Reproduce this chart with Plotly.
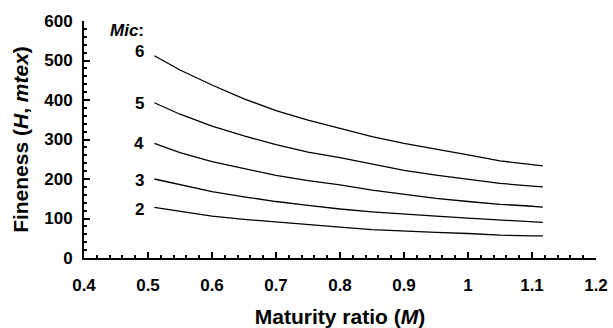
import plotly.graph_objects as go

maturity = [0.51, 0.55, 0.60, 0.65, 0.70, 0.75, 0.80, 0.85, 0.90, 0.95, 1.00, 1.05, 1.10, 1.117]
mic_levels = ["2", "3", "4", "5", "6"]
fineness = {
    "6": [512, 476, 438, 403, 373, 349, 328, 307, 290, 276, 261, 246, 236, 233],
    "5": [393, 364, 334, 309, 287, 268, 254, 238, 222, 210, 199, 189, 182, 180],
    "4": [290, 267, 244, 226, 209, 196, 185, 172, 161, 151, 143, 136, 131, 129],
    "3": [200, 185, 168, 155, 143, 133, 124, 117, 111, 106, 101, 96, 91, 90],
    "2": [128, 118, 106, 98, 91, 84, 78, 72, 68, 65, 62, 58, 56, 56],
}
label_y = {"6": 522, "5": 390, "4": 290, "3": 197, "2": 123}
x_ticks = [0.4, 0.5, 0.6, 0.7, 0.8, 0.9, 1.0, 1.1, 1.2]
x_tick_text = ["0.4", "0.5", "0.6", "0.7", "0.8", "0.9", "1", "1.1", "1.2"]
y_ticks = [0, 100, 200, 300, 400, 500, 600]

FONT = "Arial, Liberation Sans, sans-serif"

fig = go.Figure()
for m in mic_levels:
    fig.add_trace(go.Scatter(x=maturity, y=fineness[m], mode="lines",
                             line=dict(color="black", width=1.3), showlegend=False))
    fig.add_annotation(x=0.497, y=label_y[m], text="<b>" + m + "</b>", showarrow=False,
                       xanchor="right", yanchor="middle",
                       font=dict(family=FONT, size=17, color="black"))

fig.add_annotation(x=0.4375, y=575, text="<b><i>Mic</i>:</b>", showarrow=False,
                   xanchor="left", yanchor="middle",
                   font=dict(family=FONT, size=17, color="black"))

fig.update_layout(
    width=613, height=328,
    margin=dict(l=84, r=17, t=21, b=70),
    paper_bgcolor="white", plot_bgcolor="white",
    font=dict(family=FONT, size=17, color="black"),
    xaxis=dict(range=[0.4, 1.2], tickvals=x_ticks,
               ticktext=["<b>" + t + "</b>" for t in x_tick_text],
               showgrid=False, zeroline=False, automargin=False,
               showline=True, linecolor="black", linewidth=2,
               ticks="inside", ticklen=6, tickwidth=1.5, tickcolor="black",
               minor=dict(dtick=0.02, tick0=0.4, ticks="inside", ticklen=3, tickwidth=1.5, tickcolor="black"),
               tickfont=dict(family=FONT, size=17, color="black"),
               ticklabelstandoff=11,
               title=dict(text="<b>Maturity ratio (<i>M</i>)</b>", standoff=15,
                          font=dict(family=FONT, size=21, color="black"))),
    yaxis=dict(range=[0, 600], tickvals=y_ticks,
               ticktext=["<b>%d</b>" % v for v in y_ticks],
               showgrid=False, zeroline=False, automargin=False,
               showline=True, linecolor="black", linewidth=2,
               ticks="inside", ticklen=6, tickwidth=1.5, tickcolor="black",
               minor=dict(dtick=20, tick0=0, ticks="inside", ticklen=3, tickwidth=1.5, tickcolor="black"),
               tickfont=dict(family=FONT, size=17, color="black"),
               ticklabelstandoff=6,
               title=dict(text="<b>Fineness (<i>H</i>, <i>mtex</i>)</b>", standoff=10,
                          font=dict(family=FONT, size=21, color="black"))),
)

fig.write_html("out.html", config={"displayModeBar": False},
               post_script="document.body.style.margin='0';")
